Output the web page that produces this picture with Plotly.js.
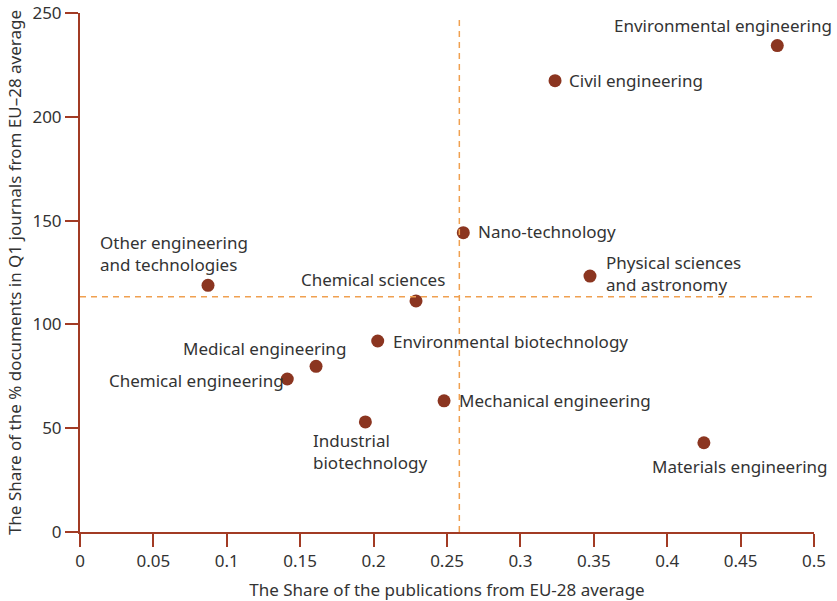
<!DOCTYPE html>
<html>
<head>
<meta charset="utf-8">
<script src="https://cdn.plot.ly/plotly-3.0.1.min.js"></script>
<style>html,body{margin:0;padding:0;background:#fff;}#chart{width:837px;height:601px;}</style>
</head>
<body>
<div id="chart"></div>
<script>
// ---- data ----
const fields = [
  "Environmental engineering", "Civil engineering", "Nano-technology",
  "Physical sciences<br>and astronomy", "Other engineering<br>and technologies",
  "Chemical sciences", "Environmental biotechnology", "Medical engineering",
  "Chemical engineering", "Industrial<br>biotechnology", "Mechanical engineering",
  "Materials engineering"
];
const pubShare = [0.475, 0.3236, 0.2611, 0.3474, 0.0872, 0.2289, 0.2028, 0.1608, 0.1412, 0.1944, 0.248, 0.425];
const q1Share  = [234.3, 217.4, 144.2, 123.3, 118.8, 111.3, 92.0, 79.8, 73.7, 53.0, 63.2, 43.0];
const avgPubShare = 0.2584;
const avgQ1Share = 113.3;
const xTickVals = [0, 0.05, 0.1, 0.15, 0.2, 0.25, 0.3, 0.35, 0.4, 0.45, 0.5];
const xTickText = ["0", "0.05", "0.1", "0.15", "0.2", "0.25", "0.3", "0.35", "0.4", "0.45", "0.5"];
const yTickVals = [0, 50, 100, 150, 200, 250];

// ---- label placement (layout only) ----
const labelPlacement = [
  {xanchor: "right",  align: "right",  dx: 57,  dy: 20},
  {xanchor: "left",   align: "left",   dx: 12,  dy: 0},
  {xanchor: "left",   align: "left",   dx: 13,  dy: 1},
  {xanchor: "left",   align: "left",   dx: 14,  dy: 3},
  {xanchor: "left",   align: "left",   dx: -110, dy: 32},
  {xanchor: "center", align: "center", dx: -43, dy: 21},
  {xanchor: "left",   align: "left",   dx: 13,  dy: 0},
  {xanchor: "right",  align: "right",  dx: 32,  dy: 18},
  {xanchor: "right",  align: "right",  dx: -1,  dy: -1},
  {xanchor: "left",   align: "left",   dx: -54, dy: -30},
  {xanchor: "left",   align: "left",   dx: 13,  dy: 0},
  {xanchor: "center", align: "center", dx: 36,  dy: -24}
];

const FONT = "Noto Sans, sans-serif";
const FS = 17;
const TEXT = "#333333";
const AXIS = "#a23b24";
const MARK = "#8b3520";
const DASH = "#f0a050";

const annotations = fields.map((f, i) => ({
  x: pubShare[i], y: q1Share[i], xref: "x", yref: "y",
  text: f, showarrow: false,
  xanchor: labelPlacement[i].xanchor, yanchor: "middle",
  align: labelPlacement[i].align,
  xshift: labelPlacement[i].dx, yshift: labelPlacement[i].dy,
  font: {family: FONT, size: FS, color: TEXT}
}));

const traces = [{
  type: "scatter", mode: "markers",
  x: pubShare, y: q1Share,
  marker: {color: MARK, size: 13},
  hoverinfo: "x+y", cliponaxis: false
}];

const layout = {
  width: 837, height: 601,
  margin: {l: 80, r: 23, t: 13, b: 69},
  paper_bgcolor: "#ffffff", plot_bgcolor: "#ffffff",
  showlegend: false,
  font: {family: FONT, size: FS, color: TEXT},
  xaxis: {
    range: [0, 0.5], tickvals: xTickVals, ticktext: xTickText,
    showgrid: false, zeroline: false,
    showline: true, linecolor: AXIS, linewidth: 2,
    ticks: "outside", ticklen: 13, tickcolor: AXIS, tickwidth: 2,
    tickfont: {family: FONT, size: FS, color: TEXT},
    title: {text: "The Share of the publications from EU-28 average", font: {family: FONT, size: FS, color: TEXT}, standoff: 14}
  },
  yaxis: {
    range: [0, 250], tickvals: yTickVals,
    showgrid: false, zeroline: false,
    showline: true, linecolor: AXIS, linewidth: 2,
    ticks: "outside", ticklen: 13, tickcolor: AXIS, tickwidth: 2,
    tickfont: {family: FONT, size: FS, color: TEXT},
    title: {text: "The Share of the % documents in Q1 journals from EU–28 average", font: {family: FONT, size: FS, color: TEXT}, standoff: 6}
  },
  shapes: [
    {type: "line", xref: "x", yref: "paper", x0: avgPubShare, x1: avgPubShare, y0: 0, y1: 0.99,
     line: {color: DASH, width: 1.5, dash: "6px,5px"}},
    {type: "line", xref: "paper", yref: "y", x0: 0, x1: 1, y0: avgQ1Share, y1: avgQ1Share,
     line: {color: DASH, width: 1.5, dash: "6px,5px"}}
  ],
  annotations: annotations
};

Plotly.newPlot("chart", traces, layout, {displayModeBar: false, staticPlot: true});
</script>
</body>
</html>
